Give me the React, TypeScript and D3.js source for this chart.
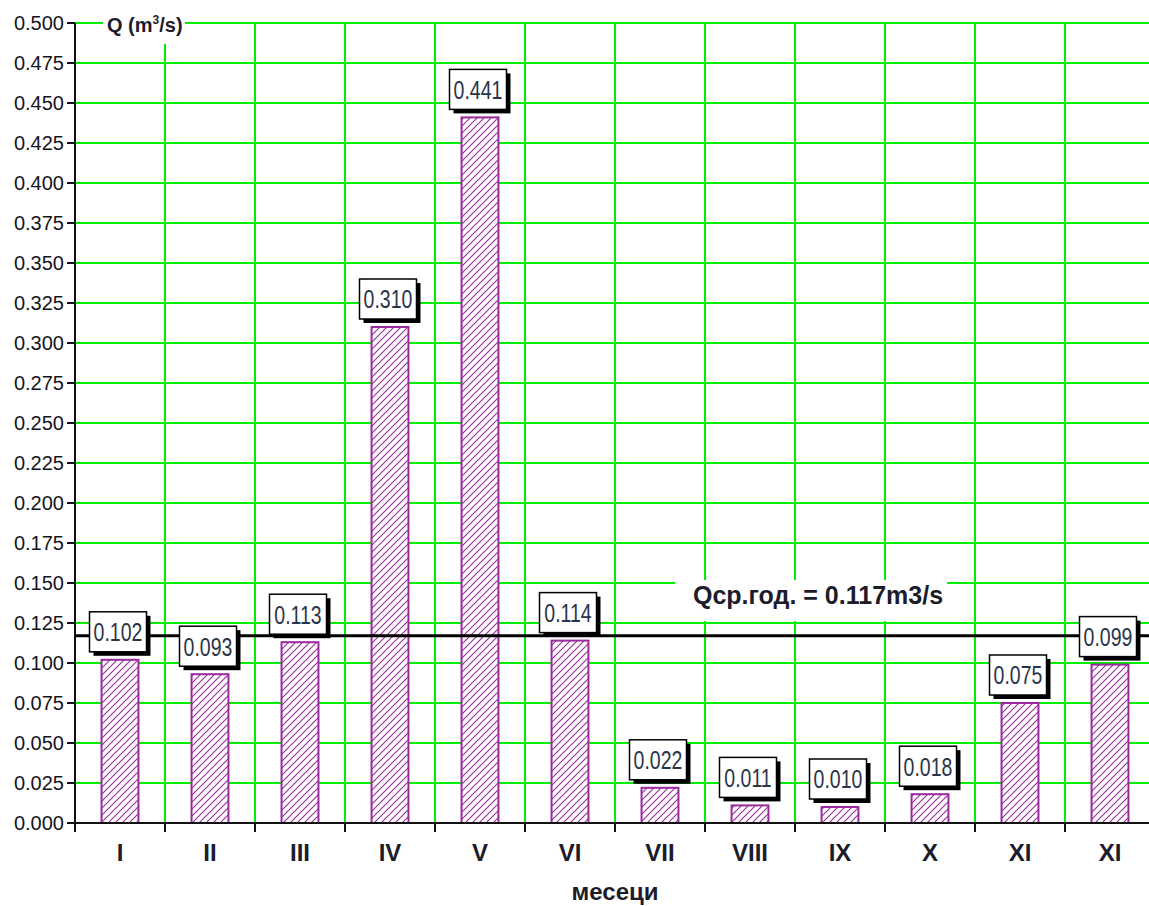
import React, { useEffect } from 'react';
import * as d3 from 'd3';

const months = ['I', 'II', 'III', 'IV', 'V', 'VI', 'VII', 'VIII', 'IX', 'X', 'XI', 'XI'];
const flows = [0.102, 0.093, 0.113, 0.31, 0.441, 0.114, 0.022, 0.011, 0.01, 0.018, 0.075, 0.099];
const meanFlow = 0.117;
const meanLabel = 'Qср.год. = 0.117m3/s';
const yTickValues = [0, 0.025, 0.05, 0.075, 0.1, 0.125, 0.15, 0.175, 0.2, 0.225, 0.25, 0.275, 0.3, 0.325, 0.35, 0.375, 0.4, 0.425, 0.45, 0.475, 0.5];
const xTitle = 'месеци';

const W = 1149;
const H = 906;
const LEFT = 75;
const RIGHT = 1155;
const TOP = 23;
const BOTTOM = 823;

const GREEN = '#00ee00';
const PURPLE = '#9a2a9e';
const TEXT = '#1c1c2a';
const FONT = 'Liberation Sans, Arial, sans-serif';

export default function App() {
  useEffect(() => {
    document.body.style.margin = '0';
  }, []);

  const x = d3
    .scaleBand<number>()
    .domain(d3.range(months.length))
    .range([LEFT, RIGHT])
    .paddingInner(0.59)
    .paddingOuter(0.295);
  const y = d3.scaleLinear().domain([0, 0.5]).range([BOTTOM, TOP]);
  const step = x.step();
  const boundaries = d3.range(months.length + 1).map((i) => LEFT + i * step);
  const bw = x.bandwidth();
  const yMean = y(meanFlow);

  const boxW = 57;
  const boxH = 40;
  const shadow = 4;

  return (
    <svg width={W} height={H} style={{ display: 'block', background: '#fff' }}>
      <defs>
        <pattern id="hatch" patternUnits="userSpaceOnUse" width={7} height={7}>
          <rect width={7} height={7} fill="#fff" />
          <path d="M-1,8 L8,-1 M-1,1 L1,-1 M6,8 L8,6" stroke={PURPLE} strokeWidth={1.1} />
        </pattern>
      </defs>

      {/* horizontal gridlines */}
      {yTickValues.map((v) => (
        <line key={'h' + v} x1={LEFT} x2={W} y1={y(v)} y2={y(v)} stroke={GREEN} strokeWidth={2} />
      ))}
      {/* vertical gridlines */}
      {boundaries.slice(1).map((bx, i) => (
        <line key={'v' + i} x1={bx} x2={bx} y1={TOP} y2={BOTTOM} stroke={GREEN} strokeWidth={2} />
      ))}

      {/* title background + title */}
      <rect x={103} y={4} width={82} height={40} fill="#fff" />
      <text x={107} y={32} fontFamily={FONT} fontWeight="bold" fontSize={20} fill={TEXT}>
        Q (m<tspan fontSize={12} dy={-8}>3</tspan>
        <tspan dy={8}>/s)</tspan>
      </text>

      {/* bars */}
      {flows.map((v, i) => (
        <rect
          key={'b' + i}
          x={x(i)!}
          y={y(v)}
          width={bw}
          height={BOTTOM - y(v)}
          fill="url(#hatch)"
          stroke={PURPLE}
          strokeWidth={2}
        />
      ))}

      {/* mean line */}
      <line x1={LEFT} x2={W} y1={yMean} y2={yMean} stroke="#000" strokeWidth={3} />

      {/* mean label */}
      <rect x={675} y={580} width={272} height={41} fill="#fff" />
      <text x={818} y={604} textAnchor="middle" fontFamily={FONT} fontWeight="bold" fontSize={25} fill={TEXT}>
        {meanLabel}
      </text>

      {/* value boxes */}
      {flows.map((v, i) => {
        const cx = x(i)! + bw / 2;
        const bx = cx - (boxW + shadow) / 2;
        const by = y(v) - 8 - boxH;
        return (
          <g key={'l' + i}>
            <rect x={bx + shadow} y={by + shadow} width={boxW} height={boxH} fill="#000" />
            <rect x={bx} y={by} width={boxW} height={boxH} fill="#fff" stroke="#000" strokeWidth={1.5} />
            <text
              transform={`translate(${bx + boxW / 2},${by + boxH / 2 + 1}) scale(0.78,1)`}
              textAnchor="middle"
              dominantBaseline="central"
              fontFamily={FONT}
              fontSize={25}
              fill="#2a3448"
            >
              {d3.format('.3f')(v)}
            </text>
          </g>
        );
      })}

      {/* axes */}
      <line x1={LEFT} x2={LEFT} y1={TOP} y2={BOTTOM + 8} stroke="#111" strokeWidth={2} />
      <line x1={LEFT} x2={W} y1={BOTTOM} y2={BOTTOM} stroke="#111" strokeWidth={2} />
      {yTickValues.map((v) => (
        <g key={'yt' + v}>
          <line x1={LEFT - 8} x2={LEFT} y1={y(v)} y2={y(v)} stroke="#111" strokeWidth={2} />
          <text
            x={LEFT - 11}
            y={y(v)}
            textAnchor="end"
            dominantBaseline="central"
            fontFamily={FONT}
            fontSize={20}
            fill="#15151f"
          >
            {d3.format('.3f')(v)}
          </text>
        </g>
      ))}
      {boundaries.map((bx, i) => (
        <line key={'xt' + i} x1={bx} x2={bx} y1={BOTTOM} y2={BOTTOM + 9} stroke="#111" strokeWidth={2} />
      ))}
      {months.map((m, i) => (
        <text
          key={'xl' + i}
          x={x(i)! + bw / 2}
          y={861}
          textAnchor="middle"
          fontFamily={FONT}
          fontWeight="bold"
          fontSize={24}
          fill={TEXT}
        >
          {m}
        </text>
      ))}
      <text x={615} y={900} textAnchor="middle" fontFamily={FONT} fontWeight="bold" fontSize={24} fill={TEXT}>
        {xTitle}
      </text>
    </svg>
  );
}
